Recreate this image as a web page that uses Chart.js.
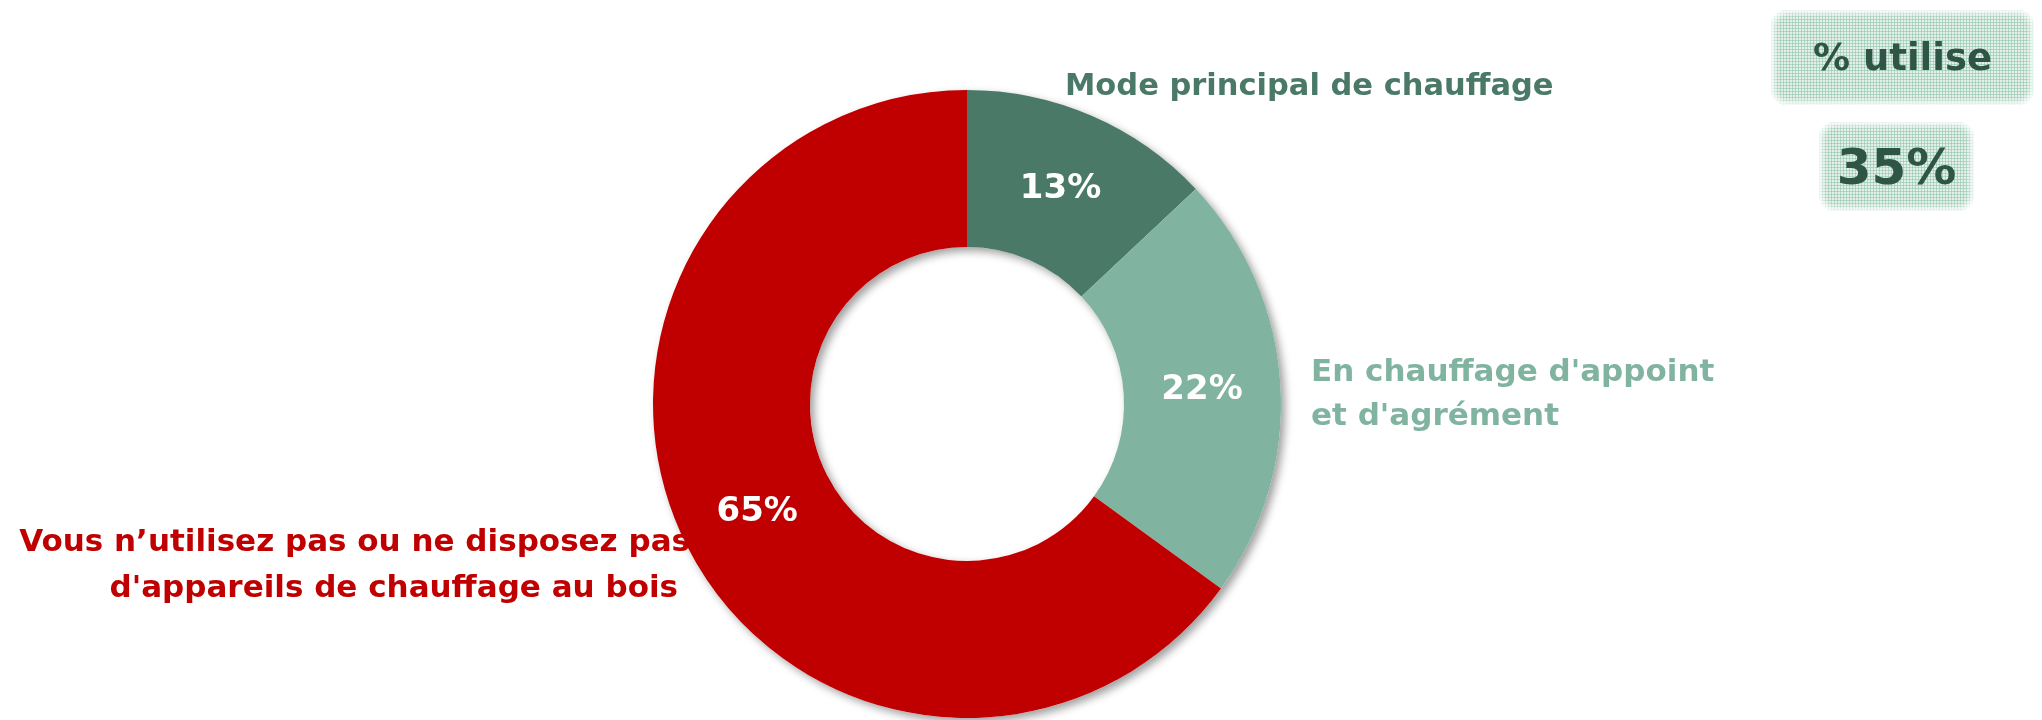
<!DOCTYPE html>
<html>
<head>
<meta charset="utf-8">
<script src="https://cdn.jsdelivr.net/npm/chart.js@4/dist/chart.umd.min.js"></script>
<style>
  html, body { margin: 0; padding: 0; background: #ffffff; }
  #wrap { position: relative; width: 2042px; height: 720px; }
  #c { position: absolute; left: 0; top: 0; }
  .box {
    position: absolute;
    border-radius: 16px;
    background-color: #e3efe8;
    background-image:
      linear-gradient(rgba(140,195,170,0.55) 1px, transparent 1px),
      linear-gradient(90deg, rgba(140,195,170,0.55) 1px, transparent 1px);
    background-size: 3px 3px;
    box-shadow: inset 0 0 6px 3px #ffffff;
    color: #2f5546;
    font-family: 'DejaVu Sans', sans-serif;
    font-weight: bold;
    display: flex; align-items: center; justify-content: center;
  }
  #b1 { left: 1771px; top: 10px; width: 263px; height: 95px; font-size: 37px; }
  #b2 { left: 1819px; top: 122px; width: 155px; height: 89px; font-size: 50px; }
</style>
</head>
<body>
<div id="wrap">
  <canvas id="c" width="2042" height="720"></canvas>
  <div class="box" id="b1"></div>
  <div class="box" id="b2"></div>
</div>
<script>
// ---- data ----
const categories = [
  "Mode principal de chauffage",
  "En chauffage d'appoint et d'agrément",
  "Vous n\u2019utilisez pas ou ne disposez pas d'appareils de chauffage au bois"
];
const labelLines = [
  ["Mode principal de chauffage"],
  ["En chauffage d'appoint", "et d'agrément"],
  ["Vous n\u2019utilisez pas ou ne disposez pas", "d'appareils de chauffage au bois"]
];
const values = [13, 22, 65];
const sliceColors = ["#4a7968", "#80b3a0", "#c00000"];
const boxTitle = "% utilise";
const boxValue = "35%";

document.getElementById('b1').textContent = boxTitle;
document.getElementById('b2').textContent = boxValue;

const FONT = "'DejaVu Sans', sans-serif";

// ring shadow drawn under the slices
const shadowPlugin = {
  id: 'ringShadow',
  beforeDatasetsDraw(chart) {
    const arc = chart.getDatasetMeta(0).data[0];
    if (!arc) return;
    const ctx = chart.ctx;
    ctx.save();
    ctx.shadowColor = 'rgba(0,0,0,0.38)';
    ctx.shadowBlur = 9;
    ctx.shadowOffsetX = 4;
    ctx.shadowOffsetY = 4;
    ctx.fillStyle = '#ffffff';
    ctx.beginPath();
    ctx.arc(arc.x, arc.y, arc.outerRadius, 0, Math.PI * 2, false);
    ctx.arc(arc.x, arc.y, arc.innerRadius, 0, Math.PI * 2, true);
    ctx.closePath();
    ctx.fill();
    ctx.restore();
  }
};

// value labels inside slices + outside category labels
const labelPlugin = {
  id: 'sliceLabels',
  afterDatasetsDraw(chart, args, opts) {
    const ctx = chart.ctx;
    const meta = chart.getDatasetMeta(0);
    ctx.save();
    ctx.textBaseline = 'middle';
    meta.data.forEach((arc, i) => {
      const p = arc.tooltipPosition();
      ctx.fillStyle = '#ffffff';
      ctx.textAlign = 'center';
      ctx.font = 'bold 34px ' + FONT;
      ctx.fillText(values[i] + '%', p.x, p.y + 1);
    });
    opts.outside.forEach((o, i) => {
      ctx.fillStyle = sliceColors[i];
      ctx.textAlign = o.align;
      ctx.font = 'bold ' + o.size + 'px ' + FONT;
      labelLines[i].forEach((line, j) => {
        const x = (o.xs && o.xs[j] !== undefined) ? o.xs[j] : o.x;
        ctx.fillText(line, x, o.y + j * o.lh);
      });
    });
    ctx.restore();
  }
};

new Chart(document.getElementById('c'), {
  type: 'doughnut',
  data: {
    labels: categories,
    datasets: [{
      data: values,
      backgroundColor: sliceColors,
      borderWidth: 0
    }]
  },
  options: {
    responsive: false,
    animation: false,
    cutout: '50%',
    layout: { padding: { left: 0, right: 108, top: 90, bottom: 2 } },
    plugins: {
      legend: { display: false },
      tooltip: { enabled: false },
      sliceLabels: {
        outside: [
          { x: 1065, y: 87, lh: 44, align: 'left', size: 30.5 },
          { x: 1311, y: 373, lh: 44, align: 'left', size: 31 },
          { xs: [690, 678], y: 543, lh: 46, align: 'right', size: 31 }
        ]
      }
    }
  },
  plugins: [shadowPlugin, labelPlugin]
});
</script>
</body>
</html>
